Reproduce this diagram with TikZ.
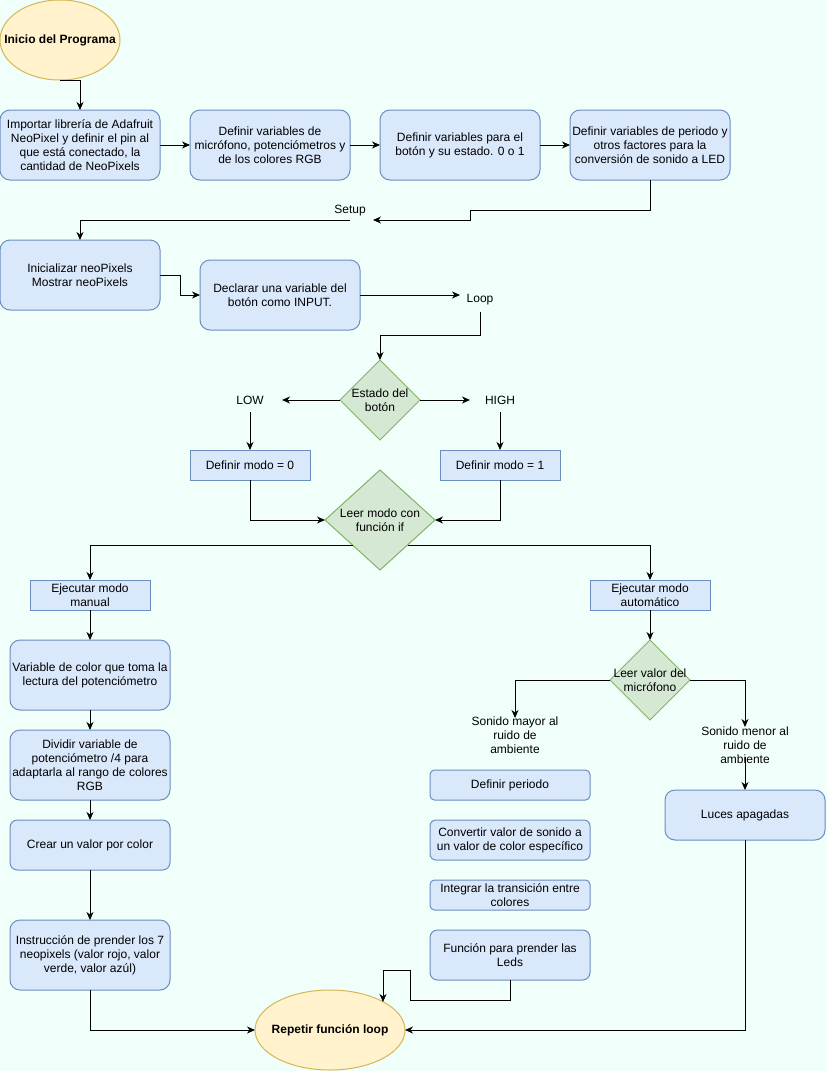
\documentclass[tikz,border=0pt]{standalone}
\usepackage{fontspec}
\setmainfont{Liberation Sans}
\usetikzlibrary{arrows.meta,shapes.geometric}
\definecolor{bg}{RGB}{240,255,250}
\definecolor{bfill}{HTML}{DAE8FC}
\definecolor{bdraw}{HTML}{6C8EBF}
\definecolor{gfill}{HTML}{D5E8D4}
\definecolor{gdraw}{HTML}{82B366}
\definecolor{yfill}{HTML}{FFF2CC}
\definecolor{ydraw}{HTML}{D6B656}
\begin{document}
\begin{tikzpicture}[x=1pt,y=-1pt,
  every node/.style={font=\fontsize{12}{14}\selectfont, align=center, inner sep=0pt, outer sep=0pt},
  rbox/.style={draw=bdraw, fill=bfill, line width=1pt, rectangle, rounded corners=#1},
  rbox/.default=10pt,
  sbox/.style={draw=bdraw, fill=bfill, line width=1pt, rectangle},
  dia/.style={draw=gdraw, fill=gfill, line width=1pt, diamond},
  ell/.style={draw=ydraw, fill=yfill, line width=1pt, ellipse},
  boldlbl/.style={font=\fontsize{12}{14}\selectfont\bfseries, align=center},
  plainlbl/.style={font=\fontsize{12}{14}\selectfont, align=center},
  arr/.style={line width=1pt, -{Stealth[length=8pt,width=7pt,inset=2.5pt]}},
  ln/.style={line width=1pt}
]
\fill[bg] (0,0) rectangle (827,1071);
\useasboundingbox (0,0) rectangle (827,1071);

% top row
\node[ell, minimum width=120pt, minimum height=80pt, label={[boldlbl]center:Inicio del Programa}] (start) at (60,40) {};
\node[rbox, minimum width=160pt, minimum height=70pt] (b1) at (80,145) {Importar librería de Adafruit\\NeoPixel y definir el pin al\\que está conectado, la\\cantidad de NeoPixels};
\node[rbox, minimum width=160pt, minimum height=70pt] (b2) at (270,145) {Definir variables de\\micrófono, potenciómetros y\\de los colores RGB};
\node[rbox, minimum width=160pt, minimum height=70pt] (b3) at (460,145) {Definir variables para el\\botón y su estado. 0 o 1};
\node[rbox, minimum width=160pt, minimum height=70pt] (b4) at (650,145) {Definir variables de periodo y\\otros factores para la\\conversión de sonido a LED};

\node (setup) at (350,211) {Setup};
\coordinate (setupE) at (373,220);
\coordinate (setupW) at (350,220);

\node[rbox, minimum width=160pt, minimum height=70pt] (b5) at (80,275) {Inicializar neoPixels\\Mostrar neoPixels};
\node[rbox, minimum width=160pt, minimum height=70pt] (b6) at (280,295) {Declarar una variable del\\botón como INPUT.};
\node[minimum width=40pt, minimum height=24pt] (loop) at (480,300) {Loop};

\node[dia, minimum width=80pt, minimum height=80pt, label={[plainlbl]center:Estado del\\botón}] (d1) at (380,400) {};
\node[minimum width=64pt, minimum height=24pt] (low) at (250,400) {LOW};
\node[minimum width=60pt, minimum height=24pt] (high) at (500,400) {HIGH};
\node[sbox, minimum width=120pt, minimum height=30pt] (m0) at (250,465) {Definir modo = 0};
\node[sbox, minimum width=120pt, minimum height=30pt] (m1) at (500,465) {Definir modo = 1};
\node[dia, minimum width=110pt, minimum height=100pt, label={[plainlbl]center:Leer modo con\\función if}] (d2) at (380,520) {};

\node[sbox, minimum width=120pt, minimum height=30pt] (man) at (90,595) {Ejecutar modo\\manual};
\node[sbox, minimum width=120pt, minimum height=30pt] (aut) at (650,595) {Ejecutar modo\\automático};

% manual column
\node[rbox, minimum width=160pt, minimum height=70pt] (v1) at (90,675) {Variable de color que toma la\\lectura del potenciómetro};
\node[rbox, minimum width=160pt, minimum height=70pt] (v2) at (90,765) {Dividir variable de\\potenciómetro /4 para\\adaptarla al rango de colores\\RGB};
\node[rbox=7.5pt, minimum width=160pt, minimum height=50pt] (v3) at (90,845) {Crear un valor por color};
\node[rbox, minimum width=160pt, minimum height=70pt] (v4) at (90,955) {Instrucción de prender los 7\\neopixels (valor rojo, valor\\verde, valor azúl)};

\node[ell, minimum width=150pt, minimum height=80pt, label={[boldlbl]center:Repetir función loop}] (end) at (330,1030) {};

% automatic column
\node[dia, minimum width=80pt, minimum height=80pt, label={[plainlbl]center:Leer valor del\\micrófono}] (d3) at (650,680) {};
\node (mayor) at (515,735) {Sonido mayor al\\ruido de\\ambiente};
\node (menor) at (745,745) {Sonido menor al\\ruido de\\ambiente};
\coordinate (mayorTop) at (515,718);
\coordinate (menorTop) at (745,727);
\coordinate (menorBot) at (745,757);
\node[rbox, minimum width=160pt, minimum height=50pt] (luces) at (745,815) {Luces apagadas};

\node[rbox=4.5pt, minimum width=160pt, minimum height=30pt] (p1) at (510,785) {Definir periodo};
\node[rbox=6pt, minimum width=160pt, minimum height=40pt] (p2) at (510,840) {Convertir valor de sonido a\\un valor de color específico};
\node[rbox=4.5pt, minimum width=160pt, minimum height=30pt] (p3) at (510,895) {Integrar la transición entre\\colores};
\node[rbox=7.5pt, minimum width=160pt, minimum height=50pt] (p4) at (510,955) {Función para prender las\\Leds};
\coordinate (endIn) at (383,1002);

% connectors
\draw[arr] (start.south) -| (b1.north);
\draw[arr] (b1.east) -- (b2.west);
\draw[arr] (b2.east) -- (b3.west);
\draw[arr] (b3.east) -- (b4.west);
\draw[arr] (b4.south) -- (650,210) -- (470,210) -- (470,220) -- (setupE);
\draw[arr] (setupW) -| (b5.north);
\draw[arr] (b5.east) -- (180,275) |- (b6.west);
\draw[arr] (b6.east) -- (b6.east -| loop.west);
\draw[arr] (loop.south) -- (480,335) -| (d1.north);
\draw[arr] (d1.west) -- (low.east);
\draw[arr] (d1.east) -- (high.west);
\draw[arr] (low.south) -- (m0.north);
\draw[arr] (high.south) -- (m1.north);
\draw[arr] (m0.south) |- (d2.west);
\draw[arr] (m1.south) |- (d2.east);
\draw[arr] (d2.south west) -| (man.north);
\draw[arr] (d2.south east) -| (aut.north);
\draw[arr] (man.south) -- (v1.north);
\draw[arr] (v1.south) -- (v2.north);
\draw[arr] (v2.south) -- (v3.north);
\draw[arr] (v3.south) -- (v4.north);
\draw[arr] (v4.south) |- (end.west);
\draw[arr] (aut.south) -- (d3.north);
\draw[arr] (d3.west) -| (mayorTop);
\draw[arr] (d3.east) -| (menorTop);
\draw[arr] (menorBot) -- (luces.north);
\draw[arr] (luces.south) |- (end.east);
\draw[arr] (p4.south) -- (510,1000) -- (410,1000) -- (410,970) -- (383,970) -- (endIn);
\end{tikzpicture}
\end{document}
